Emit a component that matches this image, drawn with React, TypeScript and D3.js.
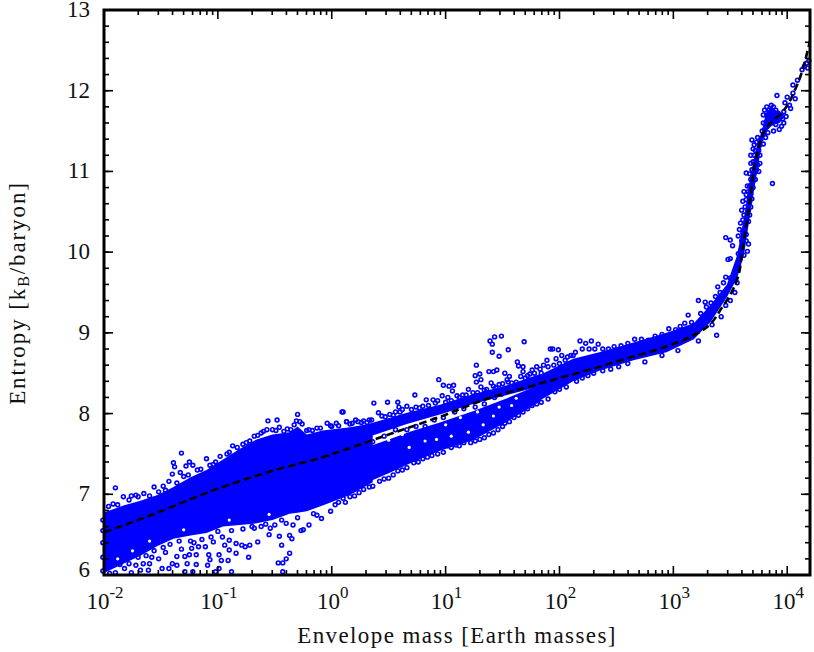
import React from "react";
import * as d3 from "d3";

// log10(envelope mass) and entropy
const meanLogM = [-2,-1.8,-1.5,-1,-0.5,-0.08,0.07,0.5,0.95,1.4,1.8,2.1,2.35,2.56,2.94,3.23,3.43,3.56,3.61,3.67,3.73,3.82,3.96,4.08,4.18,4.2];
const meanS = [6.53,6.63,6.79,7.07,7.3,7.46,7.53,7.74,7.96,8.2,8.36,8.48,8.58,8.67,8.83,9.01,9.32,9.66,10.06,10.61,11.18,11.55,11.74,12.05,12.5,12.62];

const mainLogM = [-2,-1.99,-1.83,-1.68,-1.53,-1.39,-1.24,-1.1,-0.955,-0.81,-0.66,-0.52,-0.37,-0.3,-0.22,-0.08,0.16,0.36];
const mainTop = [6.76,6.78,6.86,6.92,6.99,7.09,7.21,7.3,7.43,7.56,7.68,7.74,7.77,7.84,7.74,7.79,7.83,7.88];
const mainBottom = [6.02,6.03,6.14,6.24,6.36,6.45,6.49,6.52,6.6,6.62,6.64,6.68,6.76,6.77,6.79,6.86,6.99,7.15];

const upperLogM = [0.3,0.66,0.95,1.24,1.54,1.83];
const upperTop = [7.86,8.01,8.11,8.24,8.35,8.49];
const upperBottom = [7.7,7.87,7.99,8.12,8.23,8.34];

const lowerLogM = [0.3,0.5,0.7,0.95,1.24,1.54,1.83];
const lowerTop = [7.58,7.68,7.78,7.89,8.03,8.19,8.36];
const lowerBottom = [7.14,7.26,7.39,7.54,7.67,7.9,8.15];

const rightLogM = [1.8,2.12,2.35,2.65,2.94,3.18,3.33,3.47,3.56,3.62,3.68,3.74,3.78];
const rightTop = [8.46,8.68,8.76,8.88,9.0,9.12,9.35,9.6,9.96,10.42,10.98,11.36,11.5];
const rightBottom = [8.14,8.4,8.53,8.66,8.76,8.92,9.14,9.44,9.68,9.96,10.52,11.04,11.36];

const blobLogM = [3.79,3.82,3.86,3.92,3.97];
const blobTop = [11.6,11.74,11.8,11.74,11.72];
const blobBottom = [11.42,11.5,11.56,11.6,11.66];

// small white openings left between the points
const gapLogM = [0.38,0.5,0.62,0.68,0.8,0.82,0.92,1.0,1.05,1.13,1.2,1.28,1.33,1.42,1.47,1.58,1.62,-0.55,-0.9,-1.3,-1.75,-1.88,-1.6];
const gapS = [7.66,7.67,7.74,7.58,7.88,7.66,7.68,7.86,7.72,7.95,7.77,8.02,7.86,7.97,8.08,8.1,8.19,6.75,6.68,6.56,6.3,6.2,6.42];

const upperOutliers: [number, number][] = [
[-1.9,7.08],[-1.56,7.09],[-1.96,6.85],[-1.92,6.88],[-1.88,6.87],[-1.83,6.97],[-1.78,6.93],[-1.76,6.98],[-1.72,6.99],[-1.65,7.01],[-1.6,6.98],[-1.52,7.03],[-1.48,7.1],[-1.43,7.16],[-1.36,7.14],[-1.32,7.51],[-1.39,7.39],[-1.38,7.34],[-1.25,7.4],[-1.22,7.36],[-1.28,7.35],[-1.4,7.25],[-1.33,7.27],[-1.26,7.24],[-1.18,7.3],[-1.1,7.44],[-1.07,7.36],[-1.02,7.4],[-0.98,7.47],[-0.87,7.6],[-0.92,7.5],[-0.83,7.58],[-0.78,7.62],[-0.72,7.66],[-0.68,7.72],[-0.62,7.76],[-0.56,7.91],[-0.57,7.8],[-0.52,7.8],[-0.48,7.92],[-0.46,7.83],[-0.49,7.79],[-0.42,7.78],[-0.36,7.8],[-0.33,7.86],[-0.3,7.99],[-0.31,7.91],[-0.28,7.9],[-0.26,7.87],[-0.22,7.79],[-0.17,7.79],[-0.13,7.82],[-0.1,7.82],[-0.04,7.88],[-0.01,7.85],[0.04,7.88],[0.09,8.02],[0.13,7.9],[0.18,7.88],[0.23,7.9],[0.1,8.02],[0.13,7.9],[0.28,7.91],[0.33,7.92],[0.37,8.13],[0.41,8.01],[0.49,8.14],[0.44,7.97],[0.51,7.99],[0.58,8.14],[0.59,8.08],[0.56,8.02],[0.66,8.09],[0.62,8.05],[0.74,8.08],[0.73,8.23],[0.7,8.05],[0.8,8.09],[0.83,8.17],[0.89,8.17],[0.93,8.16],[0.97,8.22],[0.94,8.42],[0.98,8.35],[1.03,8.34],[1.07,8.35],[1.06,8.28],[1.02,8.2],[1.1,8.22],[1.15,8.23],[1.2,8.3],[1.27,8.6],[1.26,8.47],[1.3,8.49],[1.27,8.39],[1.31,8.42],[1.31,8.33],[1.38,8.52],[1.42,8.52],[1.45,8.54],[1.4,8.38],[1.42,8.34],[1.36,8.3],[1.47,8.36],[1.52,8.5],[1.54,8.42],[1.56,8.46],[1.62,8.39],[1.55,8.39],[1.49,8.96],[1.43,8.95],[1.39,8.9],[1.41,8.86],[1.41,8.76],[1.55,8.79],[1.47,8.71],[1.69,8.89],[1.63,8.64],[1.64,8.59],[1.68,8.58],[1.68,8.52],[1.72,8.47],[1.66,8.46],[1.76,8.54],[1.74,8.49],[1.8,8.58],[1.83,8.55],[1.86,8.6],[1.89,8.66],[1.92,8.8],[1.94,8.8],[1.99,8.79],[1.97,8.68],[2.02,8.72],[2.05,8.66],[2.1,8.72],[2.14,8.76],[2.18,8.9],[2.23,8.87],[2.28,8.9],[2.34,8.86],[2.2,8.8],[2.26,8.8],[2.31,8.8],[2.38,8.8],[2.43,8.8],[2.48,8.83],[2.54,8.84],[2.6,8.87],[2.66,8.92],[2.72,8.92],[2.78,8.91],[2.84,8.96],[2.9,8.98],[2.96,9.05],[3.02,9.04],[3.06,9.08],[3.13,9.22],[3.1,9.12],[3.16,9.13],[3.22,9.4],[3.28,9.38],[3.33,9.37],[3.29,9.32],[3.24,9.24],[3.32,9.26],[3.37,9.45],[3.39,9.57],[3.41,9.5],[3.44,9.62],[3.46,9.69],[3.5,9.68],[3.48,9.91],[3.5,9.92],[3.46,10.18],[3.5,10.15],[3.52,10.08],
[-1.7,6.97],[-1.46,7.05],[-1.3,7.22],[-1.15,7.31],[-1.04,7.37],[-0.9,7.52],[-0.75,7.64],[-0.65,7.73],[-0.6,7.78],[-0.39,7.81],[-0.2,7.8],[0.0,7.84],[0.06,7.85],[0.16,7.87],[0.21,7.92],[0.26,7.89],[0.31,7.89],[0.35,7.92],[0.47,7.96],[0.54,7.98],[0.6,8.02],[0.77,8.07],[0.85,8.1],[0.91,8.13],[1.0,8.14],[1.05,8.16],[1.12,8.2],[1.18,8.23],[1.24,8.26],[1.28,8.26],[1.34,8.29],[1.44,8.32],[1.5,8.37],[1.58,8.38],[1.7,8.44],[1.78,8.5],[1.84,8.5],[1.9,8.58],[1.95,8.6],[2.0,8.62],[2.07,8.7],[2.12,8.72]
];

const lowerOutliers: [number, number][] = [
[-2.01,6.05],[-2.01,6.22],[-2.01,6.4],[-2.01,6.55],[-2.01,6.68],[-1.98,6.1],[-1.95,6.02],[-1.9,6.03],[-1.86,6.13],[-1.82,6.08],[-1.78,6.14],[-1.76,6.03],[-1.72,6.12],[-1.68,6.06],[-1.655,6.14],[-1.6,6.14],[-1.61,6.06],[-1.52,6.2],[-1.49,6.08],[-1.43,6.08],[-1.4,6.14],[-1.36,6.23],[-1.36,6.12],[-1.29,6.23],[-1.25,6.25],[-1.19,6.25],[-1.23,6.33],[-1.17,6.35],[-1.11,6.35],[-1.27,6.14],[-1.19,6.13],[-1.29,6.04],[-1.22,6.04],[-1.08,6.25],[-1.07,6.19],[-1.09,6.12],[-1.02,6.04],[-0.99,6.08],[-0.99,6.25],[-0.97,6.18],[-0.94,6.37],[-0.9,6.43],[-0.9,6.31],[-0.84,6.39],[-0.84,6.27],[-0.79,6.37],[-0.76,6.35],[-0.72,6.37],[-0.73,6.22],[-0.88,6.04],[-0.91,6.18],[-0.65,6.41],[-0.68,6.58],[-0.62,6.6],[-0.55,6.5],[-0.54,6.58],[-0.5,6.62],[-0.46,6.48],[-0.44,6.37],[-0.37,6.49],[-0.35,6.45],[-0.4,6.64],[-0.34,6.62],[-0.25,6.56],[-0.27,6.55],[-0.2,6.62],[-0.13,6.74],[-0.09,6.7],[-0.01,6.79],[0.03,6.87],[-0.37,6.27],[-0.4,6.2],[-0.47,6.15],[-0.43,6.15],[-0.43,6.04],[0.12,6.9],[0.1,6.95],[0.2,6.98],[0.28,7.06],[0.36,7.1],[0.42,7.16],[0.5,7.2],[0.58,7.29],[0.66,7.33],[0.72,7.39],[0.8,7.44],[0.88,7.48],[0.98,7.52],
[-1.7,6.22],[-1.63,6.24],[-1.56,6.3],[-1.48,6.34],[-1.42,6.38],[-1.34,6.42],[-1.24,6.42],[-1.14,6.44],[-1.06,6.47],[-1.0,6.54],[-0.88,6.55],[-0.78,6.57],[-1.58,6.22],[-1.46,6.28],[-1.32,6.32],[-1.21,6.4],[-1.04,6.41],[-0.96,6.47],[-0.7,6.6],[-0.58,6.63],[-0.44,6.68],[-0.3,6.71],[-0.16,6.76],[0.06,6.9],[0.16,6.97],[0.24,7.02],[0.33,7.09],[0.46,7.19],[0.54,7.24],[0.62,7.3],[0.76,7.4],[0.84,7.46],[0.93,7.5],
[1.05,7.58],[1.12,7.6],[1.22,7.64],[1.3,7.68],[1.38,7.74],[1.46,7.8],[1.52,7.88],[1.6,7.95],[1.68,8.02],[1.76,8.1],[1.84,8.14],[2.0,8.3],[2.2,8.44],[2.3,8.5],[2.45,8.55],[2.6,8.62],[2.75,8.64],[2.9,8.72],[3.04,8.78],[3.22,8.9],[3.38,8.97],[3.34,9.1],[3.42,9.2],[3.46,9.34],[3.5,9.4],[3.54,9.5],[3.56,9.62],
[1.02,7.6],[1.09,7.61],[1.16,7.64],[1.26,7.66],[1.34,7.7],[1.42,7.76],[1.5,7.84],[1.56,7.9],[1.64,7.98],[1.72,8.06],[1.8,8.12],[1.9,8.18],[1.96,8.27],[2.06,8.33],[2.15,8.4],[2.25,8.47],[2.38,8.53],[2.52,8.58]
];

const middleScatter: [number, number][] = [
[0.36,7.65],[0.46,7.72],[0.56,7.8],[0.66,7.8],[0.74,7.84],[0.82,7.84],[0.9,7.92],[0.98,7.95],[1.08,8.02],[1.16,8.06],[1.26,8.08],[1.34,8.12],[1.43,8.2],[1.49,8.24],[1.58,8.3],[1.64,8.36]
];

const steepScatter: [number, number][] = [
[3.57,9.98],[3.59,10.02],[3.62,9.96],[3.65,10.01],[3.66,10.1],[3.64,10.14],[3.6,10.14],[3.57,10.2],[3.58,10.28],[3.61,10.24],[3.64,10.22],[3.63,10.31],[3.59,10.36],[3.61,10.4],[3.66,10.38],[3.62,10.46],[3.67,10.46],[3.6,10.52],[3.63,10.56],[3.66,10.52],[3.68,10.56],[3.61,10.63],[3.64,10.65],[3.67,10.62],[3.69,10.66],[3.62,10.75],[3.64,10.71],[3.66,10.75],[3.68,10.72],[3.65,10.82],[3.67,10.82],[3.7,10.8],[3.64,10.98],[3.68,10.9],[3.7,10.88],[3.72,10.9],[3.67,10.97],[3.69,11.02],[3.71,10.98],[3.73,11.02],[3.75,11.0],[3.68,11.1],[3.7,11.12],[3.72,11.1],[3.74,11.08],[3.76,11.1],[3.68,11.2],[3.71,11.2],[3.73,11.16],[3.76,11.2],[3.7,11.28],[3.72,11.26],[3.75,11.26],[3.69,11.39],[3.71,11.33],[3.73,11.36],[3.76,11.33],[3.79,11.34],[3.74,11.42],[3.77,11.4],[3.79,11.46],[3.81,11.42],[3.78,11.5],[3.8,11.52],[3.83,11.48],
[3.79,11.6],[3.81,11.56],[3.83,11.62],[3.79,11.7],[3.8,11.76],[3.82,11.7],[3.82,11.8],[3.84,11.76],[3.86,11.82],[3.85,11.68],[3.87,11.74],[3.88,11.8],[3.87,11.62],[3.89,11.68],[3.9,11.76],[3.92,11.72],[3.9,11.58],[3.92,11.63],[3.94,11.68],[3.88,11.5],[3.93,11.52],[3.95,11.56],[3.96,11.65],[3.97,11.74],[3.99,11.68],[3.97,11.6],[3.91,11.94],[4.0,11.92],[3.98,11.85],[4.02,11.82],[4.05,11.97],[4.03,11.78],[4.07,11.9],[4.05,12.07],[4.09,12.13],[4.13,12.26],[4.15,12.3],[4.17,12.34],[4.19,12.37],[4.18,12.28],[3.87,10.85]
];

const yTicks = d3.range(6, 14);
const xDecades = d3.range(-2, 5);
const xMinorFactors = d3.range(2, 10);
const yMinor = d3.range(6, 13, 0.2);

const W = 814, H = 652;
const M = { l: 104, r: 810, t: 10, b: 575 };
const FONT = "'Liberation Serif', serif";
const BLUE = "#0000ff";

export default function App() {
  const x = d3.scaleLog().domain([0.01, Math.pow(10, 4.2)]).range([M.l, M.r]);
  const y = d3.scaleLinear().domain([6, 13]).range([M.b, M.t]);
  const px = (l: number) => x(Math.pow(10, l));

  const band = (xs: number[], top: number[], bot: number[]) =>
    d3.area<number>().x((_, i) => px(xs[i])).y0((_, i) => y(bot[i])).y1((_, i) => y(top[i]))(xs) || "";
  const meanPath = d3.line<number>().x((_, i) => px(meanLogM[i])).y((d) => y(d)).curve(d3.curveMonotoneY)(meanS) || "";

  const allPts = [...upperOutliers, ...lowerOutliers, ...middleScatter, ...steepScatter];
  const minorX: number[] = [];
  xDecades.forEach((d) => xMinorFactors.forEach((f) => {
    const v = f * Math.pow(10, d);
    if (v < Math.pow(10, 4.2)) minorX.push(v);
  }));

  return (
    <svg width={W} height={H} viewBox={`0 0 ${W} ${H}`} style={{ position: "absolute", left: 0, top: 0, background: "#fff" }}>
      <path d={band(mainLogM, mainTop, mainBottom)} fill={BLUE} />
      <path d={band(upperLogM, upperTop, upperBottom)} fill={BLUE} />
      <path d={band(lowerLogM, lowerTop, lowerBottom)} fill={BLUE} />
      <path d={band(rightLogM, rightTop, rightBottom)} fill={BLUE} />
      <path d={band(blobLogM, blobTop, blobBottom)} fill={BLUE} />
      {gapLogM.map((l, i) => (
        <circle key={i} cx={px(l)} cy={y(gapS[i])} r={1.6} fill="#fff" />
      ))}
      {allPts.map(([l, s], i) => (
        <circle key={i} cx={px(l)} cy={y(s)} r={1.9} fill="none" stroke={BLUE} strokeWidth={1.6} />
      ))}
      <path d={meanPath} fill="none" stroke="#000" strokeWidth={2.6} strokeDasharray="7.5 4" />

      {xDecades.map((d) => {
        const tx = px(d);
        return (
          <g key={d}>
            <line x1={tx} x2={tx} y1={M.b} y2={M.b - 9} stroke="#000" strokeWidth={1.6} />
            <line x1={tx} x2={tx} y1={M.t} y2={M.t + 9} stroke="#000" strokeWidth={1.6} />
            <text x={tx + 1} y={609} textAnchor="middle" fontFamily={FONT} fontSize={23} fill="#111">
              10<tspan dy={-11} fontSize={17}>{d}</tspan>
            </text>
          </g>
        );
      })}
      {minorX.map((v, i) => (
        <g key={i}>
          <line x1={x(v)} x2={x(v)} y1={M.b} y2={M.b - 5} stroke="#000" strokeWidth={1.6} />
          <line x1={x(v)} x2={x(v)} y1={M.t} y2={M.t + 5} stroke="#000" strokeWidth={1.6} />
        </g>
      ))}
      {yMinor.map((v, i) => (
        <g key={i}>
          <line x1={M.l} x2={M.l + 5} y1={y(v)} y2={y(v)} stroke="#000" strokeWidth={1.6} />
          <line x1={M.r} x2={M.r - 5} y1={y(v)} y2={y(v)} stroke="#000" strokeWidth={1.6} />
        </g>
      ))}
      {yTicks.map((v) => (
        <g key={v}>
          <line x1={M.l} x2={M.l + 9} y1={y(v)} y2={y(v)} stroke="#000" strokeWidth={1.6} />
          <line x1={M.r} x2={M.r - 9} y1={y(v)} y2={y(v)} stroke="#000" strokeWidth={1.6} />
          <text x={90} y={y(v) + (v === 6 ? 2 : 7)} textAnchor="end" fontFamily={FONT} fontSize={23} fill="#111">{v}</text>
        </g>
      ))}
      <rect x={M.l} y={M.t} width={M.r - M.l} height={M.b - M.t} fill="none" stroke="#000" strokeWidth={3} />

      <text x={457} y={643} textAnchor="middle" fontFamily={FONT} fontSize={23} fill="#111" letterSpacing={1.4}>
        Envelope mass [Earth masses]
      </text>
      <text transform="translate(25,293) rotate(-90)" textAnchor="middle" fontFamily={FONT} fontSize={23} fill="#111" letterSpacing={1.9}>
        Entropy [k<tspan dy={4} fontSize={16}>B</tspan><tspan dy={-4}>/baryon]</tspan>
      </text>
    </svg>
  );
}
